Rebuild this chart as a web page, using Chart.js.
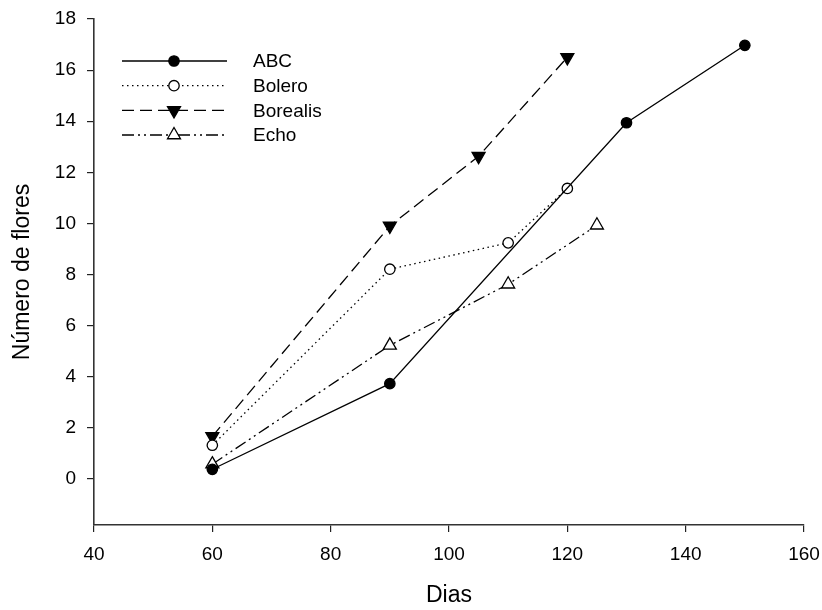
<!DOCTYPE html>
<html>
<head>
<meta charset="utf-8">
<script src="https://cdn.jsdelivr.net/npm/chart.js@4"></script>
<style>
  html,body{margin:0;padding:0;background:#fff;}
  #wrap{width:822px;height:610px;}
</style>
</head>
<body>
<div id="wrap"><canvas id="chart" width="822" height="610"></canvas></div>
<script>
// ── Data ────────────────────────────────────────────────────────────────────
const abcDias        = [60, 90, 130, 150];
const abcFlores      = [0.38, 3.73, 13.94, 16.97];
const boleroDias     = [60, 90, 110, 120];
const boleroFlores   = [1.32, 8.21, 9.24, 11.37];
const borealisDias   = [60, 90, 105, 120];
const borealisFlores = [1.67, 9.9, 12.63, 16.5];
const echoDias       = [60, 90, 110, 125];
const echoFlores     = [0.58, 5.23, 7.62, 9.93];

const xTicks = [40, 60, 80, 100, 120, 140, 160];
const yTicks = [0, 2, 4, 6, 8, 10, 12, 14, 16, 18];

const FONT = "'Liberation Sans', Arial, sans-serif";
const pts = (xs, ys) => xs.map((x, i) => ({x, y: ys[i]}));

// ── Legend (line sample with marker in the middle) ──────────────────────────
const lineLegend = {
    id: "lineLegend",
    afterDatasetsDraw(chart){
        const ctx = chart.ctx;
        const x0 = 122, x1 = 227, xm = 174, xt = 253;
        const rows = [61, 85.7, 110.4, 135];
        chart.data.datasets.forEach((ds, i) => {
            const y = rows[i];
            ctx.save();
            ctx.strokeStyle = ds.borderColor;
            ctx.lineWidth = ds.borderWidth;
            ctx.setLineDash(ds.borderDash || []);
            ctx.beginPath(); ctx.moveTo(x0, y); ctx.lineTo(x1, y); ctx.stroke();
            ctx.setLineDash([]);
            ctx.fillStyle = ds.pointBackgroundColor;
            ctx.strokeStyle = ds.pointBorderColor;
            ctx.lineWidth = ds.pointBorderWidth;
            Chart.helpers.drawPoint(ctx, {
                pointStyle: ds.pointStyle, rotation: ds.pointRotation || 0,
                radius: ds.pointRadius, borderWidth: ds.pointBorderWidth
            }, xm, y);
            ctx.fillStyle = "#000";
            ctx.font = "19px " + FONT;
            ctx.textAlign = "left";
            ctx.textBaseline = "middle";
            ctx.fillText(ds.label, xt, y + 1);
            ctx.restore();
        });
    }
};

function series(label, xs, ys, dash, style, fill, radius, rot){
    return {
        label, data: pts(xs, ys),
        borderColor: "#000", borderWidth: 1.3, borderDash: dash,
        pointStyle: style, pointRotation: rot || 0, pointRadius: radius,
        pointBackgroundColor: fill, pointBorderColor: "#000", pointBorderWidth: 1.3,
        pointHoverRadius: radius, tension: 0, fill: false
    };
}

new Chart(document.getElementById("chart"), {
    type: "line",
    data: {datasets: [
        series("ABC",      abcDias,      abcFlores,      [],                   "circle",   "#000", 5.2),
        series("Bolero",   boleroDias,   boleroFlores,   [1.5, 3.5],           "circle",   "#fff", 5.2),
        series("Borealis", borealisDias, borealisFlores, [12, 6],              "triangle", "#000", 7.5, 180),
        series("Echo",     echoDias,     echoFlores,     [12, 4, 2, 4, 2, 4],  "triangle", "#fff", 7.5)
    ]},
    options: {
        responsive: false, animation: false,
        layout: {padding: {top: 19, right: 18, left: 0, bottom: 0}},
        plugins: {legend: {display: false}, tooltip: {enabled: false}},
        scales: {
            x: {
                type: "linear", min: 40, max: 160,
                afterBuildTicks: s => { s.ticks = xTicks.map(v => ({value: v})); },
                afterFit: s => { s.height = 85; s.paddingLeft = 0; s.paddingRight = 0; },
                grid: {display: true, drawOnChartArea: false, drawTicks: true, tickLength: 7, color: "#222", lineWidth: 1.2},
                border: {display: true, color: "#333", width: 1.6},
                ticks: {color: "#000", font: {family: FONT, size: 19}, padding: 11, maxRotation: 0},
                title: {display: true, text: "Dias", color: "#000", font: {family: FONT, size: 23}, padding: {top: 0, bottom: 1}}
            },
            y: {
                type: "linear", min: -1.8, max: 18,
                afterBuildTicks: s => { s.ticks = yTicks.map(v => ({value: v})); },
                afterFit: s => { s.width = 94; s.paddingTop = 0; s.paddingBottom = 0; },
                grid: {display: true, drawOnChartArea: false, drawTicks: true, tickLength: 7, color: "#222", lineWidth: 1.2},
                border: {display: true, color: "#333", width: 1.6},
                ticks: {color: "#000", font: {family: FONT, size: 19}, padding: 11},
                title: {display: true, text: "Número de flores", color: "#000", font: {family: FONT, size: 23}, padding: {top: 9, bottom: 0}}
            }
        }
    },
    plugins: [lineLegend]
});
</script>
</body>
</html>
